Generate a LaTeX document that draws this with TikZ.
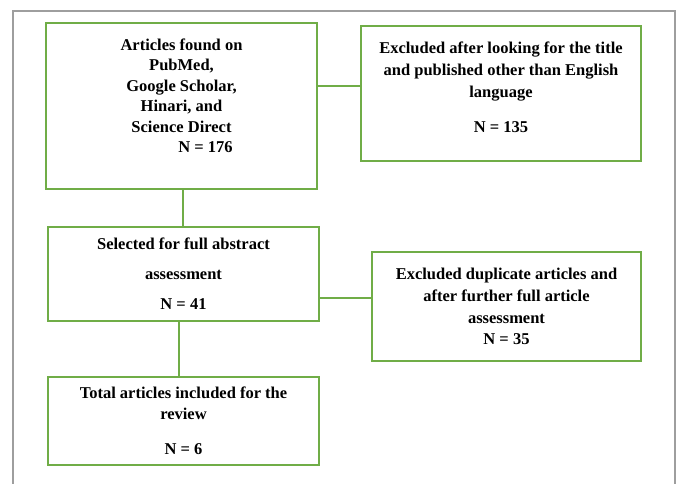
\documentclass[tikz,border=0pt]{standalone}
\usepackage{fontspec}
\setmainfont{Liberation Serif}
\usetikzlibrary{calc,positioning}
\definecolor{boxgreen}{HTML}{70AD47}
\definecolor{framegray}{HTML}{9E9E9E}
\begin{document}
\begin{tikzpicture}[x=1pt,y=-1pt,font=\fontsize{16.5}{20.5}\selectfont\bfseries,
  box/.style={draw=boxgreen,line width=1.3pt,align=center,inner sep=2pt},
  link/.style={draw=boxgreen,line width=1.4pt}]
\useasboundingbox (0,0) rectangle (678,484);
\draw[framegray,line width=1.3pt] (13,484)--(13,11)--(675,11)--(675,484);
\node (found) at (181.5,106) [box,minimum width=271pt,minimum height=166pt]
  {Articles found on\\PubMed,\\Google Scholar,\\Hinari, and\\Science Direct\\\hspace*{48pt}N = 176\\~};
\node (lang) at (501,93.5) [box,minimum width=280pt,minimum height=135pt]
  {Excluded after looking for the title\\[1.5pt]and published other than English\\[1.5pt]language\\[14pt]N = 135\\[-8pt]~};
\node (abst) at (183.5,274) [box,minimum width=271pt,minimum height=94pt]
  {Selected for full abstract\\[9.5pt]assessment\\[9.5pt]N = 41};
\node (dupl) at (506.5,306.5) [box,minimum width=269pt,minimum height=109pt]
  {Excluded duplicate articles and\\[1.5pt]after further full article\\[1.5pt]assessment\\[1pt]N = 35};
\node (incl) at (183.5,421) [box,minimum width=271pt,minimum height=88pt]
  {Total articles included for the\\review\\[14.5pt]N = 6};
\draw[link] ([yshift=20pt]found.east) -- ([yshift=20pt]found.east -| lang.west);
\draw[link] ([xshift=1.5pt]found.south) -- ([xshift=1.5pt]found.south |- abst.north);
\draw[link] ([yshift=-24pt]abst.east) -- ([yshift=-24pt]abst.east -| dupl.west);
\draw[link] ([xshift=-4.5pt]abst.south) -- ([xshift=-4.5pt]abst.south |- incl.north);
\end{tikzpicture}
\end{document}
